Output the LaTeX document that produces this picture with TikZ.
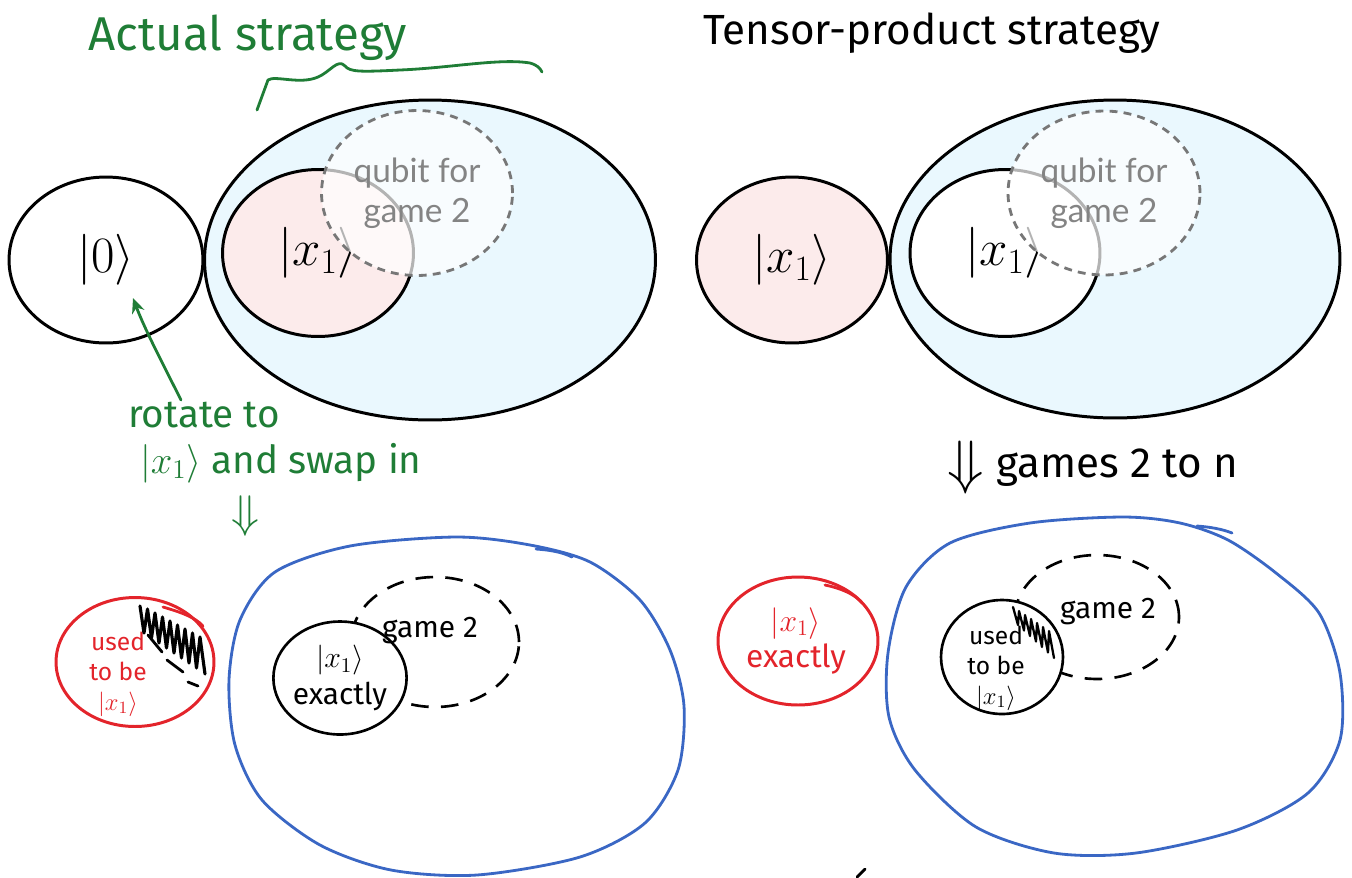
\RequirePackage{fix-cm}
\documentclass[tikz,border=0pt]{standalone}
\usepackage{fontspec}
\usetikzlibrary{shapes.geometric,positioning,arrows.meta}

\newfontfamily\handfont{Fira Sans}
\newfontfamily\slidefont{Lato}

\definecolor{penGreen}{HTML}{1F7D36}
\definecolor{penRed}{HTML}{E3242B}
\definecolor{penBlue}{HTML}{3A67C4}
\definecolor{skyFill}{HTML}{EAF8FE}
\definecolor{pinkFill}{HTML}{FCEBEB}
\definecolor{slideGray}{HTML}{848484}

\tikzset{
  ring/.style={ellipse, draw=black, line width=1.7pt, inner sep=0pt, font=\fontsize{29}{34}\selectfont},
  qubitRing/.style={ellipse, draw=slideGray!90!black, line width=1.6pt, dash pattern=on 4.5pt off 3.5pt,
    fill=white, fill opacity=0.7, text opacity=1, text=slideGray, align=center, inner sep=0pt,
    font=\slidefont\fontsize{19}{23}\selectfont},
  sketchRing/.style={ellipse, line width=1.5pt, inner sep=0pt, align=center},
  sketchDash/.style={ellipse, draw, line width=1.5pt, dash pattern=on 10pt off 7pt, inner sep=0pt},
  pen/.style={line width=1.6pt, line cap=round, line join=round},
}

\begin{document}
\begin{tikzpicture}[x=0.02cm, y=-0.02cm]
\useasboundingbox (0,0) rectangle (1352,877);

% titles
\node[text=penGreen, font=\handfont\fontsize{27}{32}\selectfont] (actualTitle) at (248,38) {Actual strategy};
\node[font=\handfont\fontsize{24}{29}\selectfont] (tensorTitle) at (932,33) {Tensor-product strategy};
\draw[pen, penGreen] (257,110) -- (268,80) .. controls (275,75) and (300,85) .. (318,77)
  .. controls (330,72) and (338,58) .. (345,66) .. controls (350,72) and (360,72) .. (400,70)
  .. controls (450,68) and (500,58) .. (530,63) .. controls (537,65) and (540,68) .. (542,72);

% top left: actual strategy
\node[ring, minimum width=3.88cm, minimum height=3.32cm] (zero) at (106,260) {$|0\rangle$};
\node[ring, fill=skyFill, minimum width=9.02cm, minimum height=6.4cm] (envL) at (430,260) {};
\node[ring, fill=pinkFill, minimum width=3.82cm, minimum height=3.34cm] (xoneL) at (318,253) {$|x_1\rangle$};
\node[qubitRing, minimum width=3.82cm, minimum height=3.3cm] (gameTwoL) at (417,193) {qubit for\\game 2};

% top right: tensor-product strategy
\node[ring, fill=pinkFill, minimum width=3.82cm, minimum height=3.32cm] (xoneOut) at (792,260) {$|x_1\rangle$};
\node[ring, fill=skyFill, minimum width=9.0cm, minimum height=6.36cm] (envR) at (1115,259) {};
\node[ring, fill=white, minimum width=3.8cm, minimum height=3.34cm] (xoneR) at (1005,253) {$|x_1\rangle$};
\node[qubitRing, minimum width=3.84cm, minimum height=3.28cm] (gameTwoR) at (1104,193) {qubit for\\game 2};

% green note
\node[text=penGreen, font=\handfont\fontsize{22}{26}\selectfont, align=left, anchor=north west, inner sep=1pt]
  (rot) at (126,400) {rotate to\\\hspace{0.24cm}$|x_1\rangle$ and swap in};
\coordinate (zeroTip) at (133,298);
\draw[pen, penGreen, -{Stealth[length=0.3cm, width=0.26cm]}] ([xshift=1.1cm]rot.north west)
  .. controls (165,368) and (145,330) .. (zeroTip);
\node[text=penGreen, font=\fontsize{26}{28}\selectfont] (dnL) at (245,516) {$\Downarrow$};

% games 2 to n
\node[font=\fontsize{34}{36}\selectfont] (dnR) at (966,468) {$\Downarrow$};
\node[font=\handfont\fontsize{24}{28}\selectfont, right=0pt of dnR] (gamesN) {games 2 to n};

% bottom left
\draw[pen, penBlue] plot[smooth cycle] coordinates {(456,537) (530,545) (590,562) (640,600) (670,650)
  (684,706) (678,770) (645,823) (580,857) (477,875) (391,870) (320,845) (262,800) (235,745)
  (229,680) (240,620) (275,572) (350,546)};
\draw[pen, penBlue] (536,549) .. controls (550,550) and (562,552) .. (572,557);
\node[sketchRing, draw=penRed, line width=1.7pt, minimum width=3.16cm, minimum height=2.58cm] (usedL) at (135,662) {};
\draw[pen, penRed] (163,607) .. controls (180,612) and (195,617) .. (203,626);
\node[text=penRed, font=\handfont\fontsize{14}{17}\selectfont, align=center] (usedLtxt) at (118,674) {used\\to be\\$|x_1\rangle$};
\draw[pen, line width=1.8pt] (140,606) \foreach \i in {0,...,7} {
    -- ({144+7.5*\i},{633+5*\i}) -- ({147.5+7.5*\i},{609+4*\i}) } -- (205,674);
\draw[pen] (148,635) -- (162,652);
\draw[pen] (167,660) -- (183,672);
\draw[pen] (188,682) -- (198,686);
\node[sketchDash, minimum width=3.36cm, minimum height=2.6cm] (gameL) at (435,642) {};
\node[sketchRing, draw=black, fill=white, minimum width=2.48cm, minimum height=2.26cm,
  font=\handfont\fontsize{17}{21}\selectfont] (exactL) at (340,678) {$|x_1\rangle$\\exactly};
\node[font=\handfont\fontsize{17}{20}\selectfont] (gameLtxt) at (430,631) {game 2};

% bottom right
\draw[pen, penBlue] plot[smooth cycle] coordinates {(1123,517) (1180,523) (1228,540) (1276,573)
  (1319,613) (1340,673) (1340,740) (1308,793) (1237,830) (1136,853) (1054,853) (976,827)
  (915,770) (889,717) (888,653) (906,587) (950,543) (1030,523)};
\draw[pen, penBlue] (1197,526) .. controls (1210,527) and (1222,529) .. (1232,533);
\node[sketchRing, draw=penRed, line width=1.7pt, minimum width=3.2cm, minimum height=2.56cm] (exactR) at (798,641) {};
\draw[pen, penRed] (825,585) .. controls (840,588) and (855,594) .. (862,603);
\node[text=penRed, font=\handfont\fontsize{18}{21}\selectfont, align=center] (exactRtxt) at (796,641) {$|x_1\rangle$\\exactly};
\node[sketchDash, minimum width=3.28cm, minimum height=2.48cm] (gameR) at (1097,617) {};
\node[sketchRing, draw=black, fill=white, minimum width=2.44cm, minimum height=2.28cm] (usedR) at (1002,657) {};
\node[font=\handfont\fontsize{14}{17}\selectfont, align=center] (usedRtxt) at (996,668) {used\\to be\\$|x_1\rangle$};
\draw[pen, line width=1.3pt] (1013,607) \foreach \i in {0,...,5} {
    -- ({1018+6*\i},{625+5.5*\i}) -- ({1019+6*\i},{611+4*\i}) } -- (1054,658);
\node[font=\handfont\fontsize{17}{20}\selectfont] (gameRtxt) at (1108,612) {game 2};

\draw[pen] (857,877) -- (865,869);
\end{tikzpicture}
\end{document}
